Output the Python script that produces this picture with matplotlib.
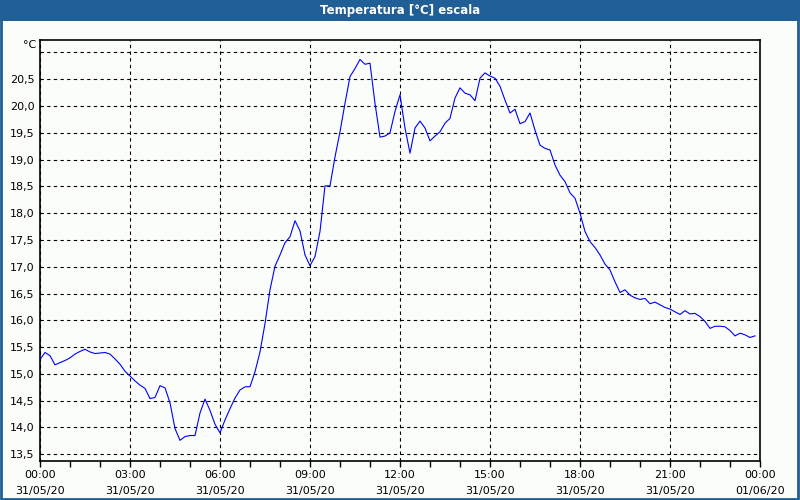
import numpy as np
import matplotlib
matplotlib.use('Agg')
import matplotlib.pyplot as plt
from matplotlib.patches import Rectangle
from matplotlib.ticker import MultipleLocator

# Temperatura cada 10 minutos, 31/05/20 00:00 -> 23:50
temperatura = [
    15.27, 15.40, 15.34, 15.17, 15.21, 15.25, 15.30, 15.37, 15.42, 15.46,
    15.41, 15.38, 15.39, 15.40, 15.37, 15.28, 15.18, 15.05, 14.96, 14.87,
    14.79, 14.73, 14.54, 14.56, 14.78, 14.74, 14.46, 13.98, 13.76, 13.83,
    13.85, 13.85, 14.27, 14.53, 14.32, 14.06, 13.90, 14.14, 14.35, 14.55,
    14.70, 14.76, 14.76, 15.04, 15.41, 15.94, 16.57, 17.01, 17.22, 17.45,
    17.56, 17.86, 17.67, 17.22, 17.02, 17.19, 17.66, 18.51, 18.51, 19.05,
    19.52, 20.05, 20.55, 20.70, 20.87, 20.78, 20.80, 20.05, 19.42, 19.44,
    19.50, 19.90, 20.21, 19.59, 19.12, 19.59, 19.72, 19.59, 19.35, 19.44,
    19.52, 19.68, 19.77, 20.15, 20.34, 20.24, 20.21, 20.10, 20.52, 20.62,
    20.56, 20.52, 20.37, 20.11, 19.87, 19.94, 19.67, 19.71, 19.87, 19.55,
    19.27, 19.21, 19.18, 18.90, 18.71, 18.59, 18.38, 18.28, 18.00, 17.66,
    17.47, 17.36, 17.22, 17.05, 16.94, 16.72, 16.52, 16.57, 16.47, 16.42,
    16.39, 16.41, 16.31, 16.34, 16.29, 16.24, 16.21, 16.16, 16.11, 16.18,
    16.12, 16.13, 16.07, 15.98, 15.85, 15.89, 15.89, 15.88, 15.81, 15.71,
    15.76, 15.73, 15.68, 15.71,
]
horas = np.arange(len(temperatura)) * 10 / 60.0

x_ticks = [0, 3, 6, 9, 12, 15, 18, 21, 24]
x_labels = ['00:00\n31/05/20', '03:00\n31/05/20', '06:00\n31/05/20',
            '09:00\n31/05/20', '12:00\n31/05/20', '15:00\n31/05/20',
            '18:00\n31/05/20', '21:00\n31/05/20', '00:00\n01/06/20']
y_ticks = np.arange(13.5, 21.01, 0.5)

titulo = 'Temperatura [°C] escala'
azul_barra = '#1f5f96'
fondo = '#fbfdfb'

fig = plt.figure(figsize=(8, 5), dpi=100, facecolor=fondo)

# barra de título y marco de ventana
fig.patches.append(Rectangle((0, 1 - 21 / 500), 1, 21 / 500, transform=fig.transFigure,
                             facecolor=azul_barra, edgecolor='none', zorder=0))
fig.patches.append(Rectangle((0.001, 0.002), 0.997, 0.995, transform=fig.transFigure,
                             facecolor='none', edgecolor=azul_barra, linewidth=2, zorder=5))
fig.text(0.5, 1 - 10.5 / 500, titulo, color='white', fontsize=8.5, fontweight='bold',
         ha='center', va='center')

ax = fig.add_axes([40 / 800, 1 - 460.7 / 500, 720 / 800, 420.7 / 500])
ax.set_facecolor(fondo)
ax.plot(horas, temperatura, color='#0000ff', linewidth=0.8)

ax.set_xlim(0, 24)
ax.set_ylim(13.38, 21.233)

ax.set_xticks(x_ticks)
ax.set_xticklabels(x_labels, fontsize=8, linespacing=1.75)
ax.xaxis.set_minor_locator(MultipleLocator(1))
ax.tick_params(axis='x', which='both', direction='out', length=4, width=1, pad=3)

ax.set_yticks(y_ticks)
ax.set_yticklabels(['' if v > 20.9 else f'{v:.1f}'.replace('.', ',') for v in y_ticks],
                   fontsize=8)
ax.tick_params(axis='y', length=0, pad=4)

ax.grid(True, color='black', linestyle=(0, (3, 3)), linewidth=0.8)
for s in ax.spines.values():
    s.set_linewidth(1.2)

ax.text(-0.005, 21.14, '°C', fontsize=8, ha='right', va='center',
        transform=ax.get_yaxis_transform())

fig.savefig('out.png', dpi=100, facecolor=fondo)
